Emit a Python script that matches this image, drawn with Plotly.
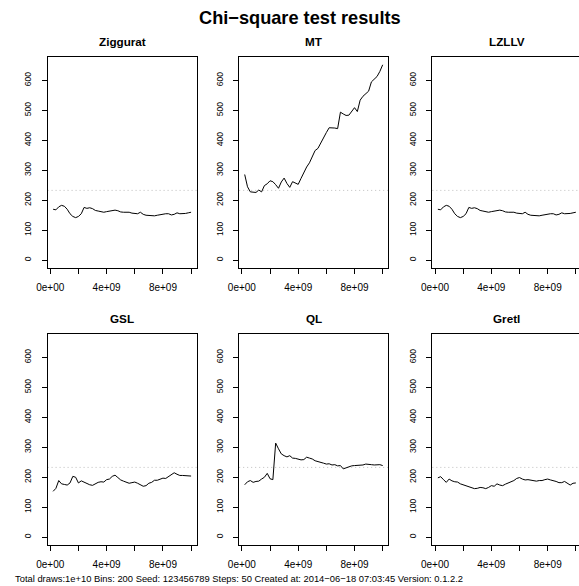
import plotly.graph_objects as go

# ---------------- data ----------------
main_title = "Chi−square test results"
footer_text = ("Total draws:1e+10 Bins: 200 Seed: 123456789 Steps: 50 "
               "Created at: 2014−06−18 07:03:45 Version: 0.1.2.2")
panel_names = ["Ziggurat", "MT", "LZLLV", "GSL", "QL", "Gretl"]
steps = list(range(1, 51))
draws_per_step = 2e8
critical_value = 232.9

ziggurat = [170, 168, 178, 183, 180, 170, 155, 146, 142, 146,
            155, 176, 173, 175, 172, 166, 164, 163, 160, 162,
            163, 166, 167, 165, 161, 160, 160, 160, 157, 155,
            155, 160, 153, 150, 149, 148, 148, 150, 152, 154,
            155, 155, 151, 153, 158, 155, 155, 156, 158, 160]
mt = [286, 245, 228, 226, 226, 234, 228, 249, 255, 265,
      262, 252, 240, 261, 274, 256, 243, 262, 257, 253,
      273, 295, 311, 325, 348, 366, 373, 392, 410, 426,
      442, 442, 441, 439, 494, 488, 483, 484, 498, 509,
      496, 534, 547, 555, 564, 595, 605, 613, 630, 652]
lzllv = [170, 168, 178, 183, 180, 170, 155, 146, 142, 146,
         155, 176, 173, 175, 172, 166, 164, 163, 160, 162,
         163, 166, 167, 165, 161, 160, 160, 160, 157, 155,
         155, 160, 153, 150, 149, 148, 148, 150, 152, 154,
         155, 155, 151, 153, 158, 155, 155, 156, 158, 160]
gsl = [153, 163, 189, 178, 176, 174, 181, 203, 200, 181,
       188, 183, 178, 175, 173, 179, 183, 185, 184, 192,
       194, 203, 207, 199, 191, 187, 184, 180, 182, 184,
       180, 175, 170, 172, 180, 183, 190, 190, 194, 197,
       196, 202, 208, 215, 210, 206, 206, 206, 206, 204]
ql = [175, 185, 189, 183, 186, 187, 194, 200, 213, 195,
      192, 314, 295, 278, 272, 268, 272, 264, 263, 261,
      258, 259, 267, 264, 261, 255, 253, 250, 247, 244,
      245, 241, 242, 238, 239, 228, 231, 236, 238, 239,
      240, 239, 241, 244, 244, 242, 241, 242, 242, 239]
gretl = [198, 202, 192, 183, 194, 188, 185, 184, 178, 175,
         172, 168, 164, 162, 163, 166, 165, 162, 166, 172,
         170, 178, 174, 172, 177, 181, 186, 189, 196, 199,
         194, 191, 192, 190, 187, 187, 189, 189, 192, 194,
         191, 189, 186, 182, 182, 186, 180, 174, 180, 181]

x_tick_vals = [0, 2e9, 4e9, 6e9, 8e9, 1e10]
x_tick_text = ["0e+00", "", "4e+09", "", "8e+09", ""]
y_tick_vals = [0, 100, 200, 300, 400, 500, 600]
y_tick_text = ["0", "100", "200", "300", "400", "500", "600"]

# ---------------- layout geometry (pixels) ----------------
W, H = 579, 586
FONT = "Liberation Sans, Arial, Helvetica, sans-serif"
col_left = [37.3, 232.6, 429.5]
box_w = 151.9
row_top = [57.0, 334.0]
box_h = 211.0
title_cx = 295.0

series = [ziggurat, mt, lzllv, gsl, ql, gretl]
x_vals = [k * draws_per_step for k in steps]

# R style ranges (4% padding)
xmin, xmax = min(x_vals), max(x_vals)
xpad = 0.04 * (xmax - xmin)
xr = [xmin - xpad, xmax + xpad]
ymax = max(max(s) for s in series)
ymin = 0
ypad = 0.04 * (ymax - ymin)
yr = [ymin - ypad, ymax + ypad]

fig = go.Figure()
layout = dict(
    width=W, height=H,
    margin=dict(l=0, r=0, t=0, b=0),
    paper_bgcolor="white", plot_bgcolor="white",
    showlegend=False,
    font=dict(family=FONT, color="black", size=8),
)
annotations = []
shapes = []

for i, (name, ys) in enumerate(zip(panel_names, series)):
    r, c = divmod(i, 3)
    n = i + 1
    xa = "x" if n == 1 else f"x{n}"
    ya = "y" if n == 1 else f"y{n}"
    L = col_left[c]
    R = L + box_w
    xrange_ = list(xr)
    cut = R > W
    if cut:
        # panel cut off at right edge of the device
        frac = (W - L) / box_w
        xrange_ = [xr[0], xr[0] + frac * (xr[1] - xr[0])]
        R = W
    T = row_top[r]
    B = T + box_h
    fig.add_trace(go.Scatter(x=x_vals, y=ys, mode="lines",
                             line=dict(color="black", width=1),
                             xaxis=xa, yaxis=ya, hoverinfo="skip"))
    layout["xaxis" if n == 1 else f"xaxis{n}"] = dict(
        domain=[L / W, R / W], range=xrange_, anchor=ya,
        showgrid=False, zeroline=False,
        showline=True, mirror=True, linecolor="black", linewidth=1,
        ticks="outside", ticklen=5, tickwidth=1, tickcolor="black",
        tickvals=x_tick_vals, ticktext=x_tick_text,
        tickfont=dict(family=FONT, size=10, color="black"),
        ticklabelstandoff=5,
    )
    layout["yaxis" if n == 1 else f"yaxis{n}"] = dict(
        domain=[1 - B / H, 1 - T / H], range=yr, anchor=xa,
        showgrid=False, zeroline=False,
        showline=True, mirror=not cut,
        linecolor="black", linewidth=1,
        ticks="outside", ticklen=5, tickwidth=1, tickcolor="black",
        tickvals=y_tick_vals, ticktext=y_tick_text, tickangle=-90,
        tickfont=dict(family=FONT, size=8.5, color="black"),
        ticklabelstandoff=7,
    )
    shapes.append(dict(type="line", xref=f"{xa} domain", yref=ya,
                       x0=0, x1=1, y0=critical_value, y1=critical_value,
                       line=dict(color="#BEBEBE", width=1, dash="1px,3px"),
                       layer="below"))
    annotations.append(dict(text=f"<b>{name}</b>", xref="paper", yref="paper",
                            x=(L + box_w / 2) / W, y=1 - (T - 15.5) / H,
                            xanchor="center", yanchor="middle", showarrow=False,
                            font=dict(family=FONT, size=11.7, color="black")))

annotations.append(dict(text=f"<b>{main_title}</b>", xref="paper", yref="paper",
                        x=title_cx / W, y=1 - 18.5 / H, xanchor="center",
                        yanchor="middle", showarrow=False,
                        font=dict(family=FONT, size=18.2, color="black")))
annotations.append(dict(text=footer_text, xref="paper", yref="paper",
                        x=2.5 / W, y=1 - 578 / H, xanchor="left", yanchor="middle",
                        showarrow=False,
                        font=dict(family=FONT, size=9.4, color="black")))

layout["annotations"] = annotations
layout["shapes"] = shapes
fig.update_layout(**layout)
fig.write_html("out.html",
               config={"displayModeBar": False},
               post_script="document.body.style.margin='0';"
                           "document.body.style.overflow='hidden';")
